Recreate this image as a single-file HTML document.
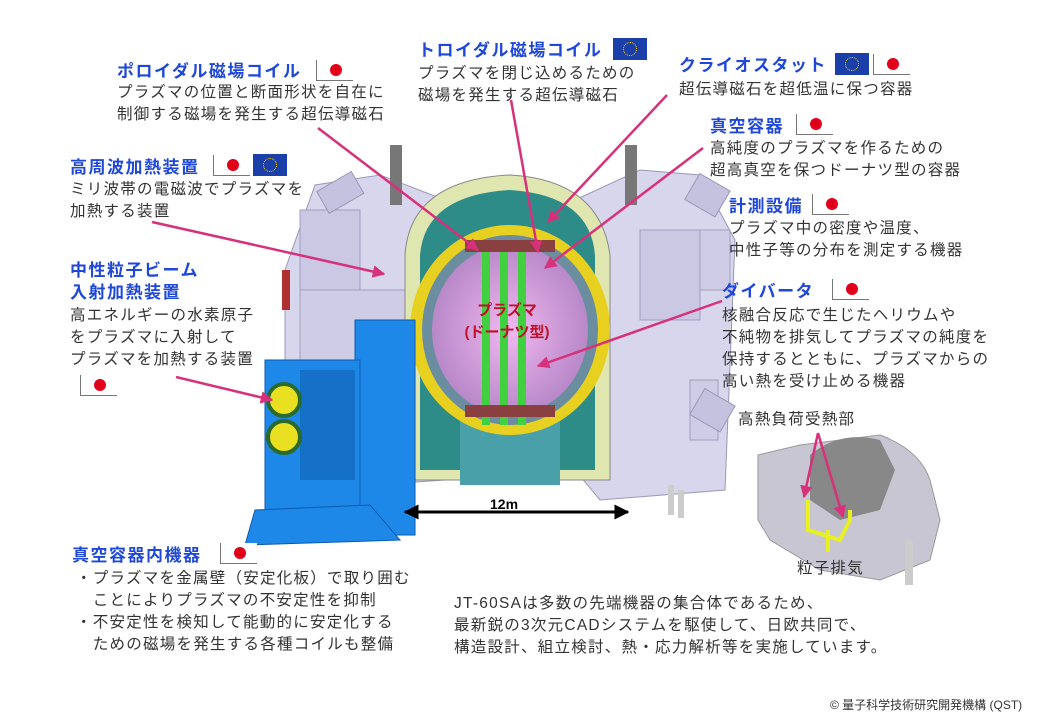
<!DOCTYPE html>
<html><head><meta charset="utf-8"><style>
body{margin:0;background:#fff;}
#w{position:relative;width:1040px;height:720px;overflow:hidden;background:#fff;font-family:"Liberation Sans","Noto Sans CJK JP",sans-serif;}
.t{position:absolute;color:#1f47d8;font-weight:bold;font-size:17px;letter-spacing:1.5px;line-height:22px;white-space:nowrap;}
.b{position:absolute;color:#333;font-size:15.5px;letter-spacing:1.25px;line-height:22px;white-space:nowrap;}
.jp{position:absolute;width:36px;height:20px;border-left:1.5px solid #777;border-bottom:1.5px solid #777;background:#fff;}
.jp:after{content:"";position:absolute;left:13px;top:4px;width:12px;height:12px;border-radius:50%;background:#e0001a;}
.eu{position:absolute;width:34px;height:22px;background:#1a3fa8;}
.eu:after{content:"";position:absolute;left:10px;top:4px;width:12px;height:12px;border-radius:50%;border:1.5px dotted #ffd700;}
</style></head><body><div id="w">
<svg width="1040" height="720" style="position:absolute;left:0;top:0">
<defs><marker id="m" viewBox="0 0 10 10" refX="9" refY="5" markerWidth="5" markerHeight="5" orient="auto"><path d="M0,0L10,5L0,10z" fill="#d6317a"/></marker>
<marker id="k" viewBox="0 0 10 10" refX="9" refY="5" markerWidth="5" markerHeight="5" orient="auto-start-reverse"><path d="M0,0L10,5L0,10z" fill="#000"/></marker>
<radialGradient id="pl"><stop offset="0" stop-color="#f0b8f0"/><stop offset="1" stop-color="#b888c8"/></radialGradient></defs>
<!-- left lavender structures -->
<polygon points="285,270 315,185 380,175 445,200 445,480 300,490 285,400" fill="#d8d6ec" stroke="#9a98b8"/>
<rect x="300" y="210" width="60" height="80" fill="#cac8e2" stroke="#a09ec0"/>
<rect x="390" y="145" width="12" height="60" fill="#777"/>
<rect x="300" y="290" width="120" height="150" fill="#cfcde6" stroke="#a09ec0"/>
<rect x="320" y="180" width="40" height="25" fill="#c4c2de" stroke="#9a98b8" transform="rotate(-30 340 192)"/>
<!-- right lavender -->
<polygon points="575,200 640,170 700,175 735,240 725,490 600,500 575,470" fill="#d8d6ec" stroke="#9a98b8"/>
<rect x="640" y="230" width="60" height="90" fill="#cac8e2" stroke="#a09ec0"/>
<rect x="625" y="145" width="12" height="60" fill="#777"/>
<rect x="700" y="230" width="30" height="60" fill="#cfcde6" stroke="#a09ec0"/>
<rect x="690" y="380" width="28" height="60" fill="#cfcde6" stroke="#a09ec0"/>
<rect x="690" y="180" width="35" height="30" fill="#c4c2de" stroke="#9a98b8" transform="rotate(30 707 195)"/>
<rect x="695" y="395" width="35" height="30" fill="#c4c2de" stroke="#9a98b8" transform="rotate(30 712 410)"/>
<!-- dome -->
<path d="M405,255 Q410,180 510,175 Q600,180 610,255 L610,480 L405,480z" fill="#e0e6b0" stroke="#888"/>
<path d="M420,255 Q425,195 510,190 Q590,195 595,255 L595,470 L420,470z" fill="#2e8c88"/>
<rect x="460" y="420" width="100" height="65" fill="#4aa0a8"/>
<!-- torus -->
<ellipse cx="510" cy="330" rx="100" ry="105" fill="#e8d020"/>
<ellipse cx="510" cy="330" rx="88" ry="95" fill="#6a8ea0"/>
<ellipse cx="510" cy="330" rx="78" ry="85" fill="url(#pl)"/>
<rect x="482" y="245" width="8" height="180" fill="#40d040"/>
<rect x="500" y="245" width="8" height="180" fill="#40d040"/>
<rect x="518" y="245" width="8" height="180" fill="#40d040"/>
<rect x="465" y="240" width="90" height="12" fill="#8a4040"/>
<rect x="465" y="405" width="90" height="12" fill="#8a4040"/>
<!-- NBI blue -->
<rect x="355" y="320" width="60" height="215" fill="#1e88e8" stroke="#0b5ab0"/>
<rect x="265" y="360" width="95" height="150" fill="#1e88e8" stroke="#0b5ab0"/>
<polygon points="255,510 370,505 400,540 245,545" fill="#1e88e8" stroke="#0b5ab0"/>
<rect x="300" y="370" width="55" height="110" fill="#1570c8"/>
<circle cx="284" cy="400" r="16" fill="#e8e020" stroke="#2a6a2a" stroke-width="4"/>
<circle cx="284" cy="437" r="16" fill="#e8e020" stroke="#2a6a2a" stroke-width="4"/>
<rect x="282" y="270" width="8" height="40" fill="#b03030"/>
<!-- plasma label -->
<text x="507" y="315" text-anchor="middle" font-size="15" font-weight="bold" fill="#c0102a" font-family="Liberation Sans,Noto Sans CJK JP,sans-serif">プラズマ</text>
<text x="507" y="337" text-anchor="middle" font-size="15" font-weight="bold" fill="#c0102a" font-family="Liberation Sans,Noto Sans CJK JP,sans-serif">(ドーナツ型)</text>
<!-- 12m -->
<line x1="405" y1="512" x2="628" y2="512" stroke="#000" stroke-width="3" marker-start="url(#k)" marker-end="url(#k)"/>
<text x="490" y="509" font-size="14" font-weight="bold" font-family="Liberation Sans,sans-serif">12m</text>
<!-- persons -->
<rect x="668" y="485" width="6" height="30" fill="#ccc"/><rect x="678" y="490" width="6" height="28" fill="#ccc"/>
<!-- inset -->
<path d="M758,455 L800,445 L880,435 Q920,450 930,480 L940,520 L930,560 L880,580 L820,570 L770,540 L758,520z" fill="#c8c6d2" stroke="#999"/>
<path d="M810,455 Q840,430 880,440 L895,470 L880,510 L840,520 L810,500z" fill="#888"/>
<rect x="905" y="540" width="8" height="45" fill="#ccc"/>
<path d="M808,500 L808,530 L840,540 L850,520 L850,510" fill="none" stroke="#e8f020" stroke-width="4"/>
<line x1="828" y1="530" x2="828" y2="552" stroke="#e8f020" stroke-width="4"/>
<!-- pink arrows -->
<g stroke="#d6317a" stroke-width="2.5" fill="none" marker-end="url(#m)">
<line x1="318" y1="128" x2="478" y2="250"/>
<line x1="511" y1="100" x2="538" y2="252"/>
<line x1="667" y1="95" x2="548" y2="222"/>
<line x1="703" y1="148" x2="545" y2="268"/>
<line x1="152" y1="222" x2="384" y2="274"/>
<line x1="722" y1="301" x2="538" y2="366"/>
<line x1="176" y1="377" x2="272" y2="400"/>
<line x1="818" y1="433" x2="804" y2="497"/>
<line x1="818" y1="433" x2="843" y2="517"/>
</g>
</svg>

<div class="t" style="left:418px;top:40px">トロイダル磁場コイル</div><div class="eu" style="left:613px;top:38px"></div>
<div class="b" style="left:418px;top:63px">プラズマを閉じ込めるための<br>磁場を発生する超伝導磁石</div>

<div class="t" style="left:117px;top:61px">ポロイダル磁場コイル</div><div class="jp" style="left:316px;top:60px"></div>
<div class="b" style="left:117px;top:82px">プラズマの位置と断面形状を自在に<br>制御する磁場を発生する超伝導磁石</div>

<div class="t" style="left:679px;top:55px">クライオスタット</div><div class="eu" style="left:835px;top:53px"></div><div class="jp" style="left:873px;top:54px"></div>
<div class="b" style="left:679px;top:79px">超伝導磁石を超低温に保つ容器</div>

<div class="t" style="left:710px;top:116px">真空容器</div><div class="jp" style="left:796px;top:114px"></div>
<div class="b" style="left:710px;top:138px">高純度のプラズマを作るための<br>超高真空を保つドーナツ型の容器</div>

<div class="t" style="left:70px;top:157px">高周波加熱装置</div><div class="jp" style="left:213px;top:155px"></div><div class="eu" style="left:253px;top:154px"></div>
<div class="b" style="left:70px;top:179px">ミリ波帯の電磁波でプラズマを<br>加熱する装置</div>

<div class="t" style="left:729px;top:196px">計測設備</div><div class="jp" style="left:812px;top:194px"></div>
<div class="b" style="left:729px;top:218px">プラズマ中の密度や温度、<br>中性子等の分布を測定する機器</div>

<div class="t" style="left:70px;top:260px">中性粒子ビーム<br>入射加熱装置</div>
<div class="b" style="left:70px;top:305px">高エネルギーの水素原子<br>をプラズマに入射して<br>プラズマを加熱する装置</div>
<div class="jp" style="left:80px;top:375px"></div>

<div class="t" style="left:722px;top:281px">ダイバータ</div><div class="jp" style="left:832px;top:279px"></div>
<div class="b" style="left:722px;top:305px">核融合反応で生じたヘリウムや<br>不純物を排気してプラズマの純度を<br>保持するとともに、プラズマからの<br>高い熱を受け止める機器</div>

<div class="b" style="left:738px;top:409px">高熱負荷受熱部</div>
<div class="b" style="left:797px;top:558px">粒子排気</div>

<div class="t" style="left:72px;top:545px">真空容器内機器</div><div class="jp" style="left:220px;top:543px"></div>
<div class="b" style="left:76px;top:568px">・プラズマを金属壁（安定化板）で取り囲む<br>　ことによりプラズマの不安定性を抑制<br>・不安定性を検知して能動的に安定化する<br>　ための磁場を発生する各種コイルも整備</div>

<div class="b" style="left:454px;top:593px">JT-60SAは多数の先端機器の集合体であるため、<br>最新鋭の3次元CADシステムを駆使して、日欧共同で、<br>構造設計、組立検討、熱・応力解析等を実施しています。</div>

<div class="b" style="left:830px;top:694px;font-size:12px;letter-spacing:0">© 量子科学技術研究開発機構 (QST)</div>
</div></body></html>
